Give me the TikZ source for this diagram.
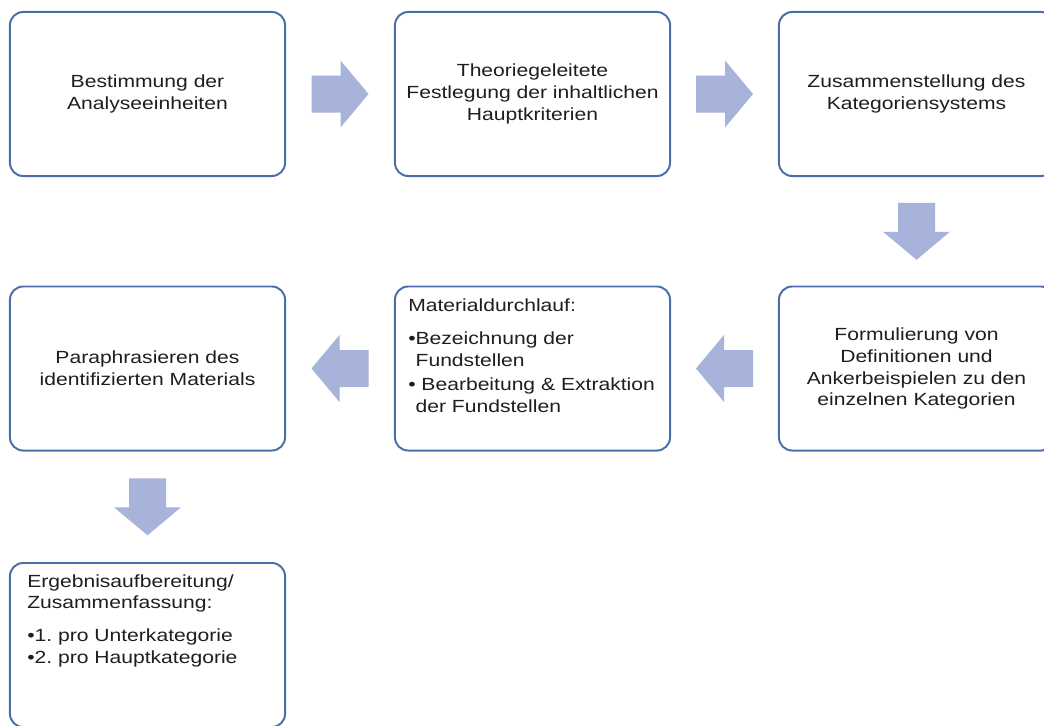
\documentclass[tikz,border=0pt]{standalone}
\usepackage{fontspec}
\setmainfont{Liberation Sans}[FakeStretch=1.2]
\usepackage{xcolor}
\usepackage{tikz}
\usetikzlibrary{positioning, calc}
\definecolor{BoxLine}  {HTML}{4A6EAA}
\definecolor{ArrowFill}{HTML}{A7B3DA}
\definecolor{Ink}      {HTML}{1E1E1E}
\frenchspacing

\begin{document}
\begin{tikzpicture}[x=0.025cm, y=-0.025cm,
    stepbox/.style={draw=BoxLine, line width=1.4pt, rounded corners=0.33cm,
      fill=white, minimum width=6.875cm, minimum height=4.1cm, inner sep=0pt,
      align=center, text=Ink, font=\fontsize{12.5}{15.6}\selectfont},
    listtext/.style={anchor=north west, align=left, inner sep=0pt,
      text=Ink, font=\fontsize{12.5}{15.6}\selectfont}]
      % ── canvas: same size as the page, boxes at the edges are cut ───────────
      \fill[white] (0,0) rectangle (1044,725);
      \useasboundingbox (0,0) rectangle (1044,725);
      \clip (0,0) rectangle (1044,725);
      % ── first row ────────────────────────────────────────────────────────────
      \node[stepbox] (b1) at (147.5,94) {Bestimmung der\\Analyseeinheiten};
      \node[stepbox] (b2) at (532.5,94)
        {Theoriegeleitete\\Festlegung der inhaltlichen\\Hauptkriterien};
      \node[stepbox] (b3) at (916.5,94) {Zusammenstellung des\\Kategoriensystems};
      % ── second row (runs right to left) ─────────────────────────────────────
      \node[stepbox] (b4) at (916.5,368.5)
        {Formulierung von\\Definitionen und\\Ankerbeispielen zu den\\einzelnen Kategorien};
      \node[stepbox] (b5) at (532.5,368.5) {};
      \node[listtext] (t5) at ($(b5.north west)+(14,13)$)
        {Materialdurchlauf:\\[7.6pt]%
         •Bezeichnung der\\\hphantom{•}Fundstellen\\[2pt]%
         • Bearbeitung \& Extraktion\\\hphantom{•}der Fundstellen};
      \node[stepbox] (b6) at (147.5,368.5) {Paraphrasieren des\\identifizierten Materials};
      % ── last box ─────────────────────────────────────────────────────────────
      \node[stepbox] (b7) at (147.5,645) {};
      \node[listtext] (t7) at ($(b7.north west)+(18,12)$)
        {Ergebnisaufbereitung/\\Zusammenfassung:\\[7.6pt]%
         •1. pro Unterkategorie\\•2. pro Hauptkategorie};
      % ── block arrows between the boxes ──────────────────────────────────────
      \foreach \a/\b/\r in {b1/b2/0, b2/b3/0, b3/b4/-90, b4/b5/180, b5/b6/180, b6/b7/-90} {
        \fill[ArrowFill, shift={($(\a)!0.5!(\b)$)}, rotate=\r]
          (-28.5,-18.5) -- (0.5,-18.5) -- (0.5,-33.5) -- (28.5,0)
          -- (0.5,33.5) -- (0.5,18.5) -- (-28.5,18.5) -- cycle;
      }
    \end{tikzpicture}
\end{document}
